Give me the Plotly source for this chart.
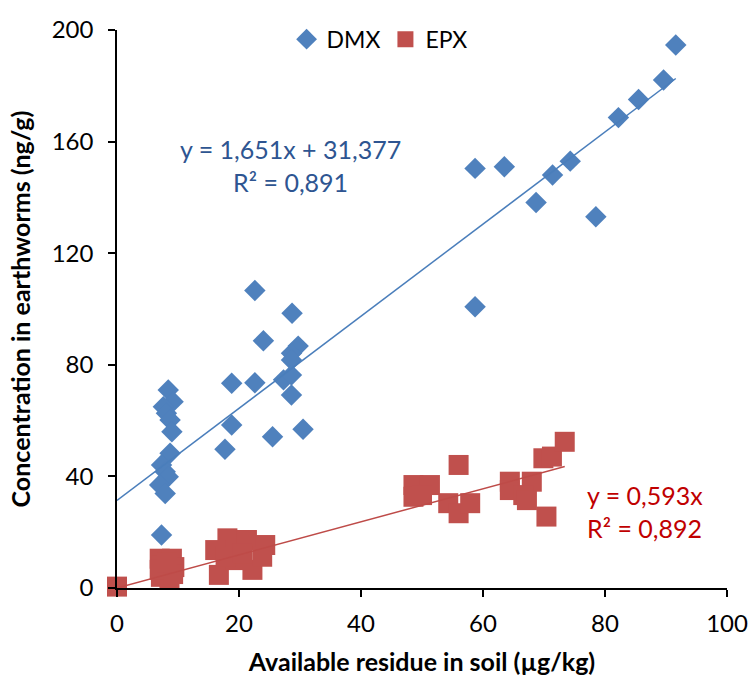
import plotly.graph_objects as go

# DMX data (x: available residue in soil µg/kg, y: concentration in earthworms ng/g)
dmx_x = [8.4, 9.2, 7.6, 8.1, 8.7, 9.0, 8.7, 7.3, 7.9, 8.4, 7.0, 7.9, 7.3,
         18.8, 22.6, 18.8, 17.7, 25.5, 22.6, 28.7, 24.0, 29.7, 28.6, 28.6,
         27.3, 28.6, 28.6, 30.5,
         58.7, 63.5, 58.7, 68.7, 71.4, 74.3, 78.5, 82.2, 85.5, 89.6, 91.6]
dmx_y = [71.0, 66.8, 65.0, 62.6, 60.2, 56.0, 48.3, 44.1, 41.7, 39.9, 36.9, 33.9, 19.0,
         73.4, 73.6, 58.4, 49.7, 54.2, 106.6, 98.5, 88.6, 86.7, 84.1, 81.7,
         74.6, 76.3, 69.2, 56.9,
         150.4, 151.0, 100.8, 138.2, 148.0, 153.0, 133.1, 168.6, 175.1, 182.1, 194.6]

# EPX data
epx_x = [0.0,
         7.0, 7.3, 8.0, 7.2, 9.0, 9.4, 8.6, 7.0, 9.2, 8.2,
         18.1, 21.3, 24.3, 16.1, 16.7, 22.2, 19.4, 23.8, 17.8, 20.5,
         48.6, 51.3, 48.6, 50.0, 56.0, 54.3, 56.0, 57.9,
         64.4, 64.4, 68.0, 66.6, 67.2, 70.4, 69.9, 71.3, 73.4]
epx_y = [0.5,
         10.5, 8.0, 6.0, 4.0, 10.5, 7.5, 3.5, 6.5, 5.0, 9.0,
         17.8, 17.2, 15.4, 13.6, 4.7, 6.5, 10.0, 11.2, 11.2, 12.4,
         36.9, 36.9, 32.7, 33.3, 44.1, 30.4, 26.8, 30.4,
         38.1, 35.1, 38.1, 33.3, 31.5, 25.6, 46.5, 47.1, 52.4]

# Linear fits (from chart labels)
dmx_slope, dmx_intercept = 1.651, 31.377
epx_slope, epx_intercept = 0.593, 0.0

x_ticks = [0, 20, 40, 60, 80, 100]
y_ticks = [0, 40, 80, 120, 160, 200]

BLUE = "#4F81BD"
RED = "#C0504D"
FONT = "Lato"

fig = go.Figure()

fig.add_trace(go.Scatter(
    x=dmx_x, y=dmx_y, mode="markers", name="DMX",
    marker=dict(symbol="diamond", size=16.5, color=BLUE, line=dict(width=0)),
    cliponaxis=False,
))
fig.add_trace(go.Scatter(
    x=epx_x, y=epx_y, mode="markers", name="EPX",
    marker=dict(symbol="square", size=20, color=RED, line=dict(width=0)),
    cliponaxis=False,
))

dmx_line_x = [min(dmx_x + [0.0]), max(dmx_x)]
epx_line_x = [min(epx_x), max(epx_x)]
fig.add_trace(go.Scatter(
    x=dmx_line_x, y=[dmx_slope * v + dmx_intercept for v in dmx_line_x],
    mode="lines", line=dict(color="#4A7EBB", width=1.5), showlegend=False,
    hoverinfo="skip",
))
fig.add_trace(go.Scatter(
    x=epx_line_x, y=[epx_slope * v + epx_intercept for v in epx_line_x],
    mode="lines", line=dict(color="#BE4B48", width=1.5), showlegend=False,
    hoverinfo="skip",
))

fig.add_annotation(x=28.5, y=151.5, xref="x", yref="y",
                   text="y = 1,651x + 31,377<br>R² = 0,891",
                   showarrow=False, align="center",
                   font=dict(family=FONT, size=25, color="#2E5591"))
fig.add_annotation(x=76.7, y=27.3, xref="x", yref="y", xanchor="left",
                   text="y = 0,593x<br>R² = 0,892",
                   showarrow=False, align="left",
                   font=dict(family=FONT, size=25, color="#C00000"))

axis_common = dict(
    showgrid=False, zeroline=False, showline=True, linecolor="black",
    linewidth=1.5, ticks="outside", ticklen=7, tickwidth=1.5, tickcolor="black",
    tickfont=dict(family=FONT, size=24, color="black"), automargin=False,
)

fig.update_layout(
    width=751, height=678,
    margin=dict(l=117, r=24, t=30, b=90),
    plot_bgcolor="white", paper_bgcolor="white",
    xaxis=dict(range=[0, 100], tickvals=x_ticks, ticklabelstandoff=6,
               title=dict(text="<b>Available residue in soil (µg/kg)</b>",
                          font=dict(family=FONT, size=25, color="black"),
                          standoff=18),
               **axis_common),
    yaxis=dict(range=[0, 200], tickvals=y_ticks, ticklabelstandoff=10,
               title=dict(text="<b>Concentration in earthworms (ng/g)</b>",
                          font=dict(family=FONT, size=25, color="black"),
                          standoff=14),
               **axis_common),
    legend=dict(orientation="h", x=0.278, y=1.022, xanchor="left", yanchor="top",
                font=dict(family=FONT, size=23, color="black"),
                bgcolor="rgba(0,0,0,0)", itemwidth=30),
    showlegend=True,
)

fig.write_html("out.html")
